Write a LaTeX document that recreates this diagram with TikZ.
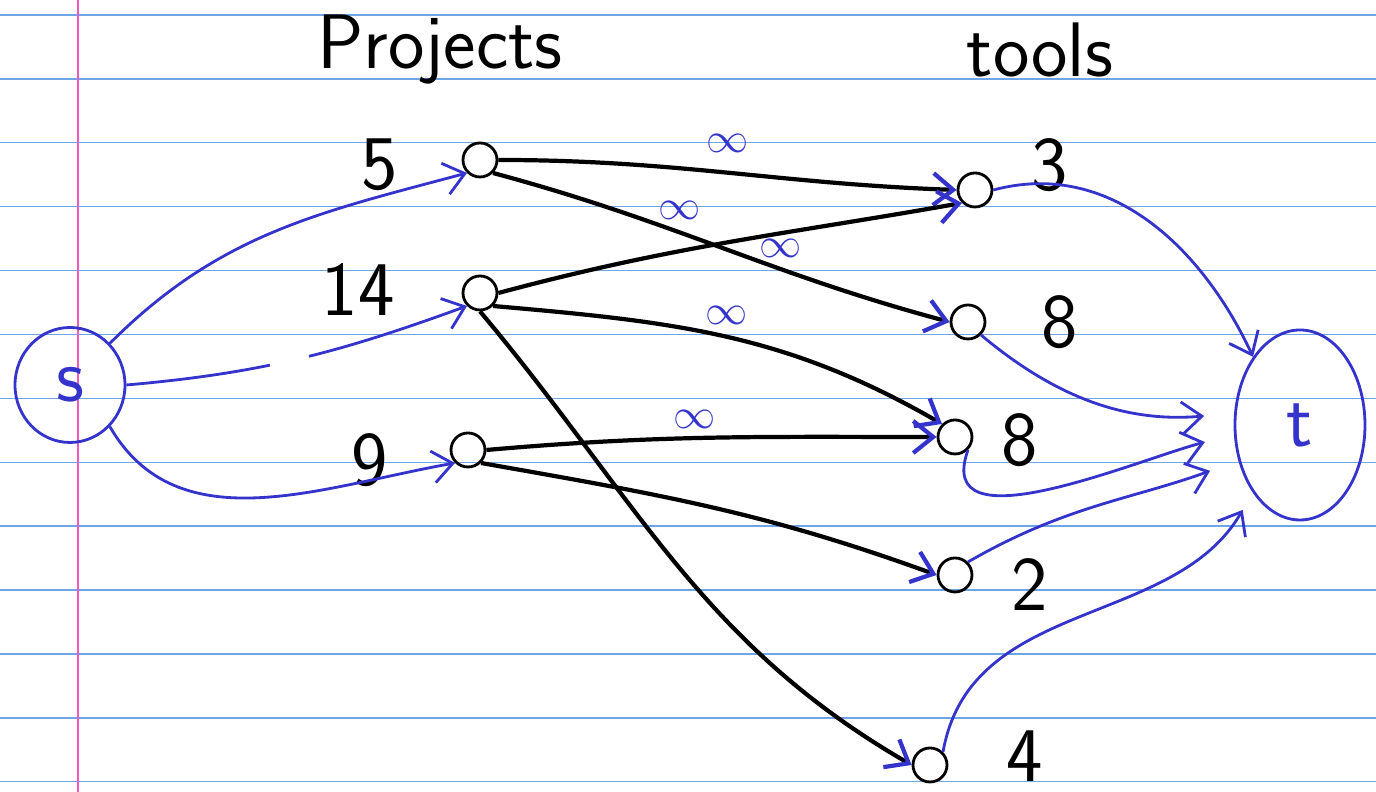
\documentclass[tikz,border=0pt]{standalone}
\usetikzlibrary{arrows.meta,shapes.geometric}
\definecolor{pen}{RGB}{52,52,204}
\definecolor{rule}{RGB}{110,165,230}
\definecolor{margin}{RGB}{240,90,190}
\tikzset{
  vtx/.style={circle,draw,thick,minimum size=0.34cm,inner sep=0pt},
  num/.style={font=\sffamily\fontsize{22}{26}\selectfont},
  flow/.style={thick,pen,-{Straight Barb[length=2mm,width=3.2mm]}},
  link/.style={very thick,-{Straight Barb[length=2mm,width=3.2mm,color=pen]}},
  inf/.style={pen,font=\large\bfseries,inner sep=1pt}
}
\begin{document}
\begin{tikzpicture}
    \useasboundingbox (0,0) rectangle (13.76,7.92);
    % paper
    \foreach \k in {0,...,12}
      \draw[rule,thin] (0,7.77-0.639*\k) -- (13.76,7.77-0.639*\k);
    \draw[margin,thin] (0.78,0) -- (0.78,7.92);

    % headings
    \node[num] (hproj) at (4.40,7.42) {Projects};
    \node[num] (htool) at (10.40,7.42) {tools};

    % source and sink
    \node[draw,pen,thick,ellipse,minimum width=1.1cm,minimum height=1.15cm,num] (src) at (0.70,4.07) {s};
    \node[draw,pen,thick,ellipse,minimum width=1.3cm,minimum height=1.9cm,num] (snk) at (13.00,3.67) {t};

    % projects
    \node[vtx] (proj5) at (4.80,6.32) {};
    \node[vtx] (proj14) at (4.80,4.99) {};
    \node[vtx] (proj9) at (4.68,3.42) {};
    \node[num] (n5) at (3.80,6.27) {5};
    \node[num] (n14) at (3.58,5.02) {14};
    \node[num] (n9) at (3.70,3.32) {9};

    % tools
    \node[vtx] (tool3) at (9.75,6.02) {};
    \node[vtx] (tool8a) at (9.68,4.70) {};
    \node[vtx] (tool8b) at (9.55,3.55) {};
    \node[vtx] (tool2) at (9.55,2.17) {};
    \node[vtx] (tool4) at (9.30,0.27) {};
    \node[num] (n3) at (10.50,6.27) {3};
    \node[num] (n8a) at (10.60,4.70) {8};
    \node[num] (n8b) at (10.20,3.52) {8};
    \node[num] (n2) at (10.30,2.07) {2};
    \node[num] (n4) at (10.25,0.36) {4};

    % source edges
    \draw[flow] (src.north east) to[out=45,in=195] (proj5.south west);
    \draw[flow,dash pattern=on 1.45cm off 0.4cm on 3cm] (src.east) to[out=5,in=200] (proj14.south west);
    \draw[flow] (src.south east) to[out=-60,in=190] (proj9.south west);

    % project -> tool edges
    \draw[link] (proj5.east) to[out=0,in=178] node[inf,pos=0.5,above=4pt] {$\infty$} (tool3.west);
    \draw[link] (proj5.south east) to[out=-15,in=165] node[inf,pos=0.4,above=2pt] {$\infty$} (tool8a.west);
    \draw[link] (proj14.east) to[out=15,in=190] node[inf,pos=0.62,below=0pt] {$\infty$} (tool3.south west);
    \draw[link] (proj14.south east) to[out=-5,in=150] node[inf,pos=0.5,above=2pt] {$\infty$} (tool8b.north west);
    \draw[link] (proj9.east) to[out=5,in=180] node[inf,pos=0.46,above=1pt] {$\infty$} (tool8b.west);
    \draw[link] (proj9.south east) to[out=-10,in=160] (tool2.west);
    \draw[link] (proj14.south) to[out=-50,in=150] (tool4.west);

    % tool -> sink edges
    \draw[flow] (tool3.east) to[out=15,in=115] (snk.north west);
    \draw[flow,shorten >=3mm] (tool8a.south east) to[out=-40,in=185] (snk.170);
    \draw[flow,shorten >=3mm] (tool8b.south east) to[out=-110,in=195] (snk.188);
    \draw[flow,shorten >=3mm] (tool2.north east) to[out=30,in=200] (snk.210);
    \draw[flow,shorten >=2mm] (tool4.north east) to[out=80,in=240] (snk.235);
\end{tikzpicture}
\end{document}
